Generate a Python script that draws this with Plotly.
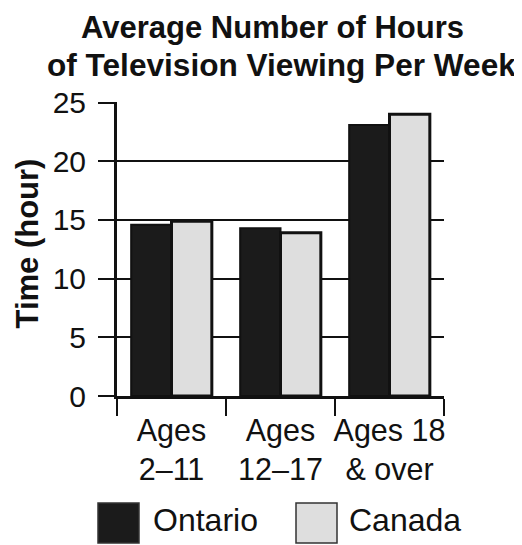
import plotly.graph_objects as go

categories = ["Ages<br>2–11", "Ages<br>12–17", "Ages 18<br>& over"]
ontario = [14.6, 14.3, 23.1]
canada = [14.9, 13.9, 24.0]
series_names = ["Ontario", "Canada"]
y_ticks = [0, 5, 10, 15, 20, 25]
title_lines = ["<b>Average Number of Hours</b>", "<b>of Television Viewing Per Week</b>"]
y_title = "<b>Time (hour)</b>"

FONT = "Liberation Sans, Arial, sans-serif"
DARK = "#1b1b1b"
LIGHT = "#dedede"

OFF = 8  # page body margin
W, H = 522 - OFF, 545 - OFF
L, T = 117 - OFF, 102 - OFF
R = W - (444 - OFF)
B = H - (396 - OFF)
PW, PH = W - L - R, H - T - B


def px_x(x):
    return (x - OFF - L) / PW


def px_y(y):
    return (H - B - (y - OFF)) / PH


fig = go.Figure()
fig.add_trace(go.Bar(x=categories, y=ontario, name=series_names[0],
                     marker=dict(color=DARK, line=dict(color="#111", width=2))))
fig.add_trace(go.Bar(x=categories, y=canada, name=series_names[1],
                     marker=dict(color=LIGHT, line=dict(color="#111", width=3))))

fig.update_layout(
    width=W, height=H,
    margin=dict(l=L, r=R, t=T, b=B, autoexpand=False),
    paper_bgcolor="white", plot_bgcolor="white",
    barmode="group", bargap=0.26, bargroupgap=0,
    showlegend=False,
    font=dict(family=FONT, color="#111", size=28),
)
fig.update_yaxes(
    range=[0, 25.05], tickvals=y_ticks, showgrid=True, gridcolor="#111", gridwidth=2,
    showline=True, linecolor="#111", linewidth=3, ticks="outside", ticklen=16,
    tickwidth=2, tickcolor="#111", zeroline=False, automargin=False,
    tickfont=dict(size=30), ticklabelstandoff=6,
)
fig.update_xaxes(
    showline=True, linecolor="#111", linewidth=3, ticks="outside", tickson="boundaries",
    ticklen=17, tickwidth=2, tickcolor="#111", tickfont=dict(size=30.5), automargin=False,
    tickangle=0, ticklabelstandoff=5,
)

# title (two lines, as in the reference)
for text, cx, cy, size in [(title_lines[0], 272, 27, 31), (title_lines[1], 281, 65, 31.6)]:
    fig.add_annotation(text=text, xref="paper", yref="paper",
                       x=px_x(cx), y=px_y(cy), xanchor="center", yanchor="middle",
                       showarrow=False, borderpad=0,
                       font=dict(size=size, family=FONT, color="#111"))
# y axis title
fig.add_annotation(text=y_title, xref="paper", yref="paper", textangle=-90,
                   x=px_x(26.5), y=px_y(243), xanchor="center", yanchor="middle",
                   showarrow=False, borderpad=0,
                   font=dict(size=31, family=FONT, color="#111"))

# custom legend with large swatches
legend_items = [(series_names[0], DARK, 98, 151), (series_names[1], LIGHT, 296, 347)]
for name, color, sx, tx in legend_items:
    fig.add_shape(type="rect", xref="paper", yref="paper",
                  x0=px_x(sx), x1=px_x(sx + 41), y0=px_y(543), y1=px_y(503),
                  fillcolor=color, line=dict(color="#333", width=1.5))
    fig.add_annotation(text=name, xref="paper", yref="paper", x=px_x(tx), y=px_y(520),
                       xanchor="left", yanchor="middle", showarrow=False,
                       font=dict(size=32, family=FONT, color="#111"))

fig.write_html("out.html")
